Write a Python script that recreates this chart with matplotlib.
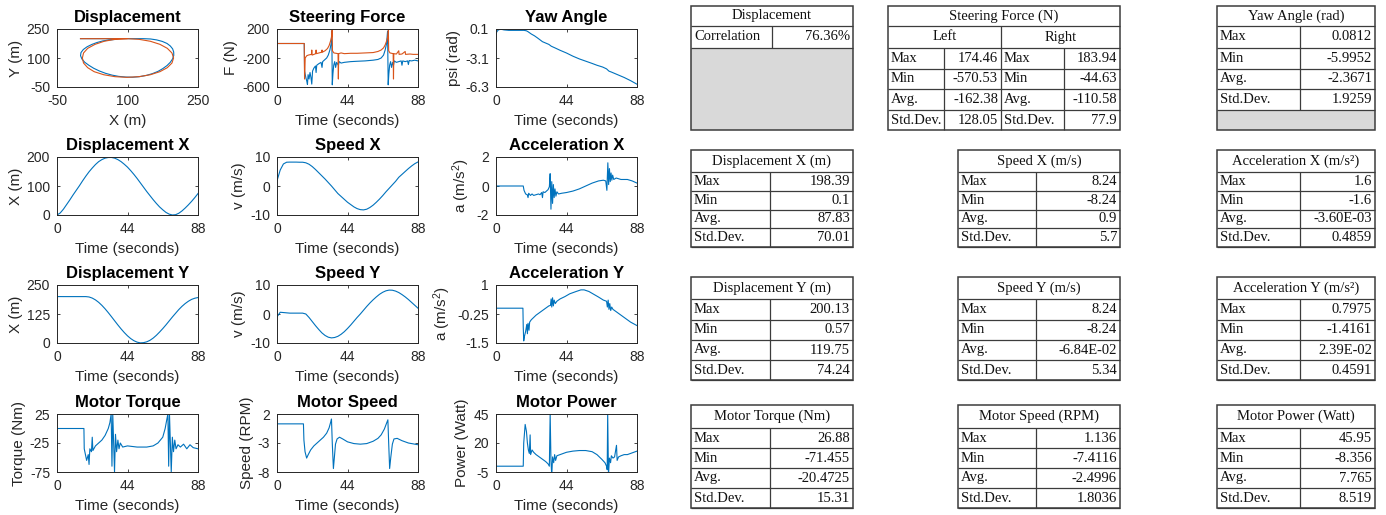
import numpy as np
import matplotlib
matplotlib.use("Agg")
import matplotlib.pyplot as plt
from matplotlib.patches import Rectangle

# ---------------------------------------------------------------- data ----
# sampled every 2 s
t_grid = np.arange(0, 89, 2)

disp_x = [0, 7, 20, 36, 52, 69, 85, 101, 118, 134, 149, 162, 174, 184, 191, 196,
          198.3, 198.4, 196, 191, 184, 175, 165, 153, 140, 126, 111, 96, 81, 67,
          53, 40, 28, 18, 9, 3, 0.1, 1, 6, 14, 24, 35, 47, 60, 74]
disp_y = [200, 200.1, 200, 200, 200, 200, 200, 200, 200, 200, 198.4, 193.6, 185.8,
          175.3, 162.3, 147.4, 130.9, 113.4, 95.5, 77.7, 60.7, 45, 30.9, 19.1, 9.9,
          3.7, 0.6, 1.5, 5, 11.5, 21, 33, 47, 62, 78, 95, 112, 128, 144, 158, 170,
          180, 188, 193, 196]
speed_x = [1.8, 5.5, 7.6, 8.2, 8.24, 8.24, 8.24, 8.2, 8.2, 8.0, 7.5, 6.7, 5.7, 4.6,
           3.5, 2.4, 1.2, 0.0, -1.3, -2.6, -3.6, -4.6, -5.6, -6.4, -7.2, -7.8, -8.15,
           -8.24, -8.0, -7.4, -6.6, -5.6, -4.5, -3.3, -2.0, -0.8, 0.4, 1.6, 3.0, 4.0,
           5.0, 6.0, 6.9, 7.7, 8.3]
speed_y = [-1.0, 0.6, 0.5, 0.4, 0.3, 0.3, 0.3, 0.3, 0.3, 0.0, -1.2, -2.6, -4.0, -5.3,
           -6.5, -7.4, -8.0, -8.24, -8.1, -7.7, -7.0, -6.1, -5.0, -3.8, -2.5, -1.2,
           0.0, 1.3, 2.6, 3.8, 4.9, 5.9, 6.8, 7.5, 8.0, 8.24, 8.2, 7.9, 7.4, 6.7, 5.9,
           5.0, 4.0, 3.0, 2.0]

# reference path (x, y) in metres
ref_path = [(0, 200), (99, 200), (124.6, 196.6), (148.5, 186.6), (169.0, 170.7),
            (184.7, 150), (194.6, 125.9), (198, 100), (194.6, 74.1), (184.7, 50),
            (169.0, 29.3), (148.5, 13.4), (124.6, 3.4), (99, 0), (73.4, 3.4),
            (49.5, 13.4), (29.0, 29.3), (15.3, 50), (6.4, 74.1), (4, 100),
            (6.4, 125.9), (15.3, 150), (31.0, 170.7), (50.5, 186.6), (73.4, 196.6),
            (99, 200)]

# (time, value) samples for the event-driven signals
yaw = [(0, -0.5), (0.5, -0.2), (1.5, 0.0), (3, 0.0812), (5, 0.0), (8, -0.05),
       (13, -0.05), (17.5, -0.05), (19, -0.1), (20, -0.2), (22, -0.45), (24, -0.65),
       (26, -0.9), (29, -1.3), (31, -1.45), (33, -1.6), (34.5, -1.8), (37, -2.0),
       (40, -2.25), (44, -2.55), (48, -2.9), (52, -3.2), (56, -3.45), (60, -3.7),
       (63, -3.9), (66.6, -4.1), (69, -4.3), (70.5, -4.55), (72, -4.65),
       (76, -4.95), (80, -5.25), (84, -5.6), (88, -5.995)]

steer_left = [(0, 0), (17.0, 0), (17.2, -380), (18.0, -470), (18.6, -520),
              (19.0, -565), (19.4, -430), (20.0, -490), (20.6, -400), (21.2, -470),
              (21.7, -560), (22.2, -380), (23.0, -340), (24.0, -310), (24.4, -400),
              (24.8, -300), (26.0, -280), (27.5, -260), (28.1, -330), (28.5, -250),
              (29.5, -230), (31.0, -200), (32.0, -160), (33.0, -90), (33.8, 0),
              (34.2, 174), (34.5, -570), (34.9, -420), (35.4, -300), (36.0, -250),
              (36.6, -330), (37.2, -260), (38.3, -300), (38.8, -250), (40.0, -270),
              (42.0, -260), (46.0, -250), (50.0, -245), (55.0, -240), (60.0, -230),
              (63.0, -220), (65.0, -200), (66.5, -160), (67.5, -90), (68.4, 0),
              (69.0, 170), (69.4, -570), (69.8, -420), (70.3, -300), (70.9, -250),
              (71.5, -330), (72.2, -260), (72.7, -300), (73.2, -240), (74.5, -260),
              (76.0, -250), (77.5, -240), (78.0, -300), (78.5, -240), (80.0, -250),
              (81.5, -240), (82.0, -290), (82.5, -235), (84.0, -240), (86.0, -230),
              (88.0, -240)]
steer_right = [(0, 0), (17, 0), (17.2, -490), (17.6, -200), (18.5, -170),
               (19.5, -160), (21.5, -150), (21.7, -90), (21.9, -160), (24.2, -140),
               (24.4, -90), (24.6, -140), (27.9, -120), (28.1, -90), (28.3, -120),
               (30, -100), (31.5, -70), (32.5, -30), (33.5, 40), (34.2, 100),
               (34.4, 184), (34.6, -100), (35.5, -130), (38.1, -140), (38.3, -490),
               (38.5, -140), (40, -130), (42, -140), (46, -135), (50, -135),
               (55, -130), (60, -125), (63, -110), (65, -90), (66.5, -60),
               (67.5, -20), (68.5, 40), (69.2, 100), (69.5, 184), (69.7, -100),
               (70.5, -130), (72.5, -140), (72.7, -490), (72.9, -140), (74.5, -145),
               (76, -100), (76.2, -150), (78, -145), (80, -110), (80.2, -150),
               (83, -145), (85, -150), (88, -150)]

accel_x = [(0, 0), (17, 0), (17.5, -0.3), (18.5, -0.55), (19.5, -0.6), (20, -0.8),
           (20.4, -0.5), (21.5, -0.65), (22.5, -0.55), (23.5, -0.65), (25, -0.6),
           (26.5, -0.55), (27.5, -0.6), (28.5, -0.45), (29, -0.8), (29.4, -0.4),
           (30.5, -0.45), (31.5, -0.35), (32.5, -0.25), (33.3, -0.05), (33.8, 0.85),
           (34.3, -1.6), (34.8, 0.3), (35.3, -1.2), (35.8, 0.1), (36.3, -0.8),
           (36.8, -0.2), (37.4, -0.7), (38, -0.4), (39, -0.55), (41, -0.5),
           (44, -0.45), (48, -0.35), (52, -0.2), (56, 0), (60, 0.2), (64, 0.35),
           (67, 0.4), (68.5, 0.35), (69.2, -0.3), (69.8, 1.6), (70.3, 0.1),
           (70.8, 1.2), (71.3, 0.3), (71.8, 0.9), (72.3, 0.4), (72.8, 0.75),
           (73.5, 0.45), (75, 0.55), (78, 0.45), (82, 0.45), (85, 0.35), (88, 0.2)]
accel_y = [(0, 0), (16.8, 0), (17.0, -0.8), (17.3, -1.41), (17.8, -1.2),
           (18.5, -1.0), (19.2, -0.7), (19.6, -1.1), (20, -0.65), (20.6, -0.95),
           (21, -0.6), (22, -0.5), (23.5, -0.4), (25, -0.3), (27, -0.2), (29, -0.1),
           (31, 0.0), (33, 0.1), (34, 0.12), (34.4, 0.4), (34.8, 0.05), (35.3, 0.45),
           (35.8, 0.1), (36.3, 0.35), (37, 0.2), (38, 0.3), (40, 0.4), (43, 0.5),
           (46, 0.62), (50, 0.72), (53, 0.79), (55, 0.79), (58, 0.72), (61, 0.6),
           (64, 0.48), (67, 0.35), (69, 0.3), (69.5, 0.05), (70, 0.35), (70.5, -0.05),
           (71, 0.2), (71.6, -0.1), (72.2, 0.05), (73, -0.05), (75, -0.15),
           (78, -0.3), (81, -0.45), (84, -0.6), (88, -0.75)]

torque = [(0, 0), (16.8, 0), (17.0, -35), (18.5, -55), (19.5, -45), (20, -62),
          (20.5, -35), (21.5, -40), (22, -15), (22.4, -38), (24, -30), (26, -25),
          (28, -20), (30, -12), (32, 0), (33, 10), (33.8, 25), (34.3, -65),
          (34.8, 25), (35.3, -20), (35.9, -75), (36.5, -10), (37.2, -40), (38, -20),
          (38.7, -35), (39.5, -25), (41, -32), (44, -30), (50, -32), (56, -32),
          (60, -30), (63, -25), (66, -15), (67.5, 0), (68.5, 15), (69.2, 25),
          (69.7, -65), (70.2, 25), (70.7, -20), (71.3, -75), (72, -15), (72.7, -40),
          (73.5, -20), (74.3, -35), (75.5, -28), (77, -32), (79, -27), (81, -35),
          (83, -28), (85, -33), (88, -35)]
motor_speed = [(0, 0.3), (16.5, 0.3), (16.8, -2.5), (17.5, -4.5), (18.5, -5.6),
               (19.5, -5.0), (21, -4.2), (23, -3.5), (25, -3.0), (27, -2.5),
               (29, -2.0), (31, -1.3), (32.5, -0.4), (33.5, 0.6), (34.0, 1.136),
               (34.5, -3), (35.2, -7.41), (35.8, -5.5), (36.5, -3.2), (37.5, -2.3),
               (39, -2.0), (41, -2.3), (44, -2.8), (48, -3.1), (52, -3.2),
               (56, -3.1), (60, -2.7), (63, -2.2), (65, -1.6), (67, -0.6),
               (68.5, 0.5), (69.2, 1.0), (69.7, -3), (70.3, -7.4), (71, -5.5),
               (72, -3.2), (73, -2.3), (75, -2.2), (78, -2.6), (82, -3.0),
               (86, -3.2), (88, -3.3)]
motor_power = [(0, 0), (17, 0), (17.3, 20), (18.2, 36), (19, 30), (19.6, 20),
               (20.2, 14), (20.8, 11), (21.3, 27), (21.6, 10), (22.5, 14),
               (23.5, 12), (25, 10), (27, 8), (29, 6), (31, 4), (32.5, 2), (33.3, 0),
               (33.8, 45.95), (34.3, 5), (34.8, -8.3), (35.3, 8), (36, 3), (36.6, 10),
               (37.2, 5), (38, 9), (40, 10), (44, 12), (48, 13), (52, 13.5),
               (56, 13.5), (60, 12.5), (63, 10), (66, 6), (68, 3), (69, 0),
               (69.4, -3), (69.7, 45.95), (70.2, -8), (70.8, 7), (71.5, 3), (72, 9),
               (73, 7), (74, 8), (75.2, 18), (75.6, 5), (76.5, 8), (78, 9), (80, 10),
               (82, 10), (84, 11), (86, 12), (88, 13)]

# summary statistics shown in the tables
stat_rows = ["Max", "Min", "Avg.", "Std.Dev."]
correlation = "76.36%"
steer_left_stats = ["174.46", "-570.53", "-162.38", "128.05"]
steer_right_stats = ["183.94", "-44.63", "-110.58", "77.9"]
yaw_stats = ["0.0812", "-5.9952", "-2.3671", "1.9259"]
disp_x_stats = ["198.39", "0.1", "87.83", "70.01"]
speed_x_stats = ["8.24", "-8.24", "0.9", "5.7"]
accel_x_stats = ["1.6", "-1.6", "-3.60E-03", "0.4859"]
disp_y_stats = ["200.13", "0.57", "119.75", "74.24"]
speed_y_stats = ["8.24", "-8.24", "-6.84E-02", "5.34"]
accel_y_stats = ["0.7975", "-1.4161", "2.39E-02", "0.4591"]
torque_stats = ["26.88", "-71.455", "-20.4725", "15.31"]
mspeed_stats = ["1.136", "-7.4116", "-2.4996", "1.8036"]
power_stats = ["45.95", "-8.356", "7.765", "8.519"]

# ---------------------------------------------------------------- style ---
plt.rcParams["font.family"] = ["Liberation Sans", "DejaVu Sans"]
plt.rcParams["mathtext.fontset"] = "custom"
plt.rcParams["mathtext.rm"] = "Liberation Sans"
plt.rcParams["mathtext.it"] = "Liberation Sans:italic"
plt.rcParams["mathtext.bf"] = "Liberation Sans:bold"

W, H = 1386, 515
fig = plt.figure(figsize=(W / 100, H / 100), dpi=100)
fig.patch.set_facecolor("white")

BLUE = "#0072BD"
ORANGE = "#D95319"
INK = "#262626"


def axes_px(left, top, width=141, height=58):
    return fig.add_axes([left / W, 1 - (top + height) / H, width / W, height / H])


def dress(ax, title, xlabel, ylabel, xlim, ylim, xticks, yticks, yticklabels):
    ax.set_xlim(*xlim)
    ax.set_ylim(*ylim)
    ax.set_xticks(xticks)
    ax.set_xticklabels([str(v) for v in xticks])
    ax.set_yticks(yticks)
    ax.set_yticklabels(yticklabels)
    ax.tick_params(direction="in", length=2.5, width=0.6, labelsize=10,
                   colors=INK, top=True, right=True, labeltop=False, labelright=False)
    ax.tick_params(axis="x", pad=5)
    ax.tick_params(axis="y", pad=5)
    for s in ax.spines.values():
        s.set_linewidth(0.7)
        s.set_color(INK)
    ax.set_title(title, fontsize=12, fontweight="bold", pad=5)
    ax.set_xlabel(xlabel, fontsize=11, color=INK, labelpad=4.5)
    ax.set_ylabel(ylabel, fontsize=11, color=INK, labelpad=3)


def pairs(samples):
    tt, vv = zip(*samples)
    return np.array(tt), np.array(vv)


col_left = [57, 277, 496]
row_top = [29, 157, 285, 414]
T_LABEL = "Time (seconds)"
tlim, tticks = (0, 88), [0, 44, 88]
LW = 0.8

# row 1
ax = axes_px(col_left[0], row_top[0])
ax.plot(disp_x, disp_y, color=BLUE, lw=LW)
rx, ry = pairs(ref_path)
ax.plot(rx, ry, color=ORANGE, lw=LW)
dress(ax, "Displacement", "X (m)", "Y (m)", (-50, 250), (-50, 250),
      [-50, 100, 250], [-50, 100, 250], ["-50", "100", "250"])

ax = axes_px(col_left[1], row_top[0])
ax.plot(*pairs(steer_left), color=BLUE, lw=LW)
ax.plot(*pairs(steer_right), color=ORANGE, lw=LW)
dress(ax, "Steering Force", T_LABEL, "F (N)", tlim, (-600, 200), tticks,
      [-600, -200, 200], ["-600", "-200", "200"])

ax = axes_px(col_left[2], row_top[0])
ax.plot(*pairs(yaw), color=BLUE, lw=LW)
dress(ax, "Yaw Angle", T_LABEL, "psi (rad)", tlim, (-6.3, 0.1), tticks,
      [-6.3, -3.1, 0.1], ["-6.3", "-3.1", "0.1"])

# row 2
ax = axes_px(col_left[0], row_top[1])
ax.plot(t_grid, disp_x, color=BLUE, lw=LW)
dress(ax, "Displacement X", T_LABEL, "X (m)", tlim, (0, 200), tticks,
      [0, 100, 200], ["0", "100", "200"])

ax = axes_px(col_left[1], row_top[1])
ax.plot(t_grid, speed_x, color=BLUE, lw=LW)
dress(ax, "Speed X", T_LABEL, "v (m/s)", tlim, (-10, 10), tticks,
      [-10, 0, 10], ["-10", "0", "10"])

ax = axes_px(col_left[2], row_top[1])
ax.plot(*pairs(accel_x), color=BLUE, lw=LW)
dress(ax, "Acceleration X", T_LABEL, "a (m/s$^2$)", tlim, (-2, 2), tticks,
      [-2, 0, 2], ["-2", "0", "2"])

# row 3
ax = axes_px(col_left[0], row_top[2])
ax.plot(t_grid, disp_y, color=BLUE, lw=LW)
dress(ax, "Displacement Y", T_LABEL, "X (m)", tlim, (0, 250), tticks,
      [0, 125, 250], ["0", "125", "250"])

ax = axes_px(col_left[1], row_top[2])
ax.plot(t_grid, speed_y, color=BLUE, lw=LW)
dress(ax, "Speed Y", T_LABEL, "v (m/s)", tlim, (-10, 10), tticks,
      [-10, 0, 10], ["-10", "0", "10"])

ax = axes_px(col_left[2], row_top[2])
ax.plot(*pairs(accel_y), color=BLUE, lw=LW)
dress(ax, "Acceleration Y", T_LABEL, "a (m/s$^2$)", tlim, (-1.5, 1), tticks,
      [-1.5, -0.25, 1], ["-1.5", "-0.25", "1"])

# row 4
ax = axes_px(col_left[0], row_top[3])
ax.plot(*pairs(torque), color=BLUE, lw=LW)
dress(ax, "Motor Torque", T_LABEL, "Torque (Nm)", tlim, (-75, 25), tticks,
      [-75, -25, 25], ["-75", "-25", "25"])

ax = axes_px(col_left[1], row_top[3])
ax.plot(*pairs(motor_speed), color=BLUE, lw=LW)
dress(ax, "Motor Speed", T_LABEL, "Speed (RPM)", tlim, (-8, 2), tticks,
      [-8, -3, 2], ["-8", "-3", "2"])

ax = axes_px(col_left[2], row_top[3])
ax.plot(*pairs(motor_power), color=BLUE, lw=LW)
dress(ax, "Motor Power", T_LABEL, "Power (Watt)", tlim, (-5, 45), tticks,
      [-5, 20, 45], ["-5", "20", "45"])

# ---------------------------------------------------------------- tables --
tab = fig.add_axes([0, 0, 1, 1], zorder=-1)
tab.set_xlim(0, W)
tab.set_ylim(H, 0)
tab.axis("off")

SERIF = ["Liberation Serif", "DejaVu Serif"]
EDGE = "#3c3c3c"
GREY = "#d9d9d9"
FS = 10.5


def hline(x0, x1, y, lw=0.9):
    tab.plot([x0, x1], [y, y], color=EDGE, lw=lw, solid_capstyle="butt")


def vline(x, y0, y1, lw=0.9):
    tab.plot([x, x], [y0, y1], color=EDGE, lw=lw, solid_capstyle="butt")


def cell_text(x, y, s, ha):
    tab.text(x, y, s, ha=ha, va="center", fontsize=FS, family=SERIF, color="#111111")


def frame(x0, x1, y0, y1):
    tab.add_patch(Rectangle((x0, y0), x1 - x0, y1 - y0, fill=False,
                            edgecolor=EDGE, lw=1.1))


def stats_table(x0, x1, xdiv, edges, title, values, grey_tail=None):
    y_end = grey_tail if grey_tail is not None else edges[-1]
    if grey_tail is not None:
        tab.add_patch(Rectangle((x0, edges[-1]), x1 - x0, grey_tail - edges[-1],
                                facecolor=GREY, edgecolor="none"))
    frame(x0, x1, edges[0], y_end)
    for y in edges[1:]:
        hline(x0, x1, y)
    vline(xdiv, edges[1], edges[-1])
    cell_text((x0 + x1) / 2, (edges[0] + edges[1]) / 2, title, "center")
    for i, (lab, val) in enumerate(zip(stat_rows, values)):
        yc = (edges[i + 1] + edges[i + 2]) / 2
        cell_text(x0 + 3, yc, lab, "left")
        cell_text(x1 - 3, yc, val, "right")


# first row: displacement correlation
r1 = [6, 26, 48, 68.5, 89, 110, 130]
x0, x1, xd = 691, 853, 772
tab.add_patch(Rectangle((x0, r1[2]), x1 - x0, r1[-1] - r1[2], facecolor=GREY,
                        edgecolor="none"))
frame(x0, x1, r1[0], r1[-1])
hline(x0, x1, r1[1])
hline(x0, x1, r1[2])
vline(xd, r1[1], r1[2])
cell_text((x0 + x1) / 2, (r1[0] + r1[1]) / 2, "Displacement", "center")
cell_text(x0 + 3, (r1[1] + r1[2]) / 2, "Correlation", "left")
cell_text(x1 - 3, (r1[1] + r1[2]) / 2, correlation, "right")

# first row: steering force, left and right wheels
x0, x1, xm = 888, 1120, 1001
xd_l, xd_r = 944, 1064
frame(x0, x1, r1[0], r1[-1])
for y in r1[1:-1]:
    hline(x0, x1, y)
vline(xm, r1[1], r1[-1])
vline(xd_l, r1[2], r1[-1])
vline(xd_r, r1[2], r1[-1])
cell_text((x0 + x1) / 2, (r1[0] + r1[1]) / 2, "Steering Force (N)", "center")
cell_text((x0 + xm) / 2, (r1[1] + r1[2]) / 2, "Left", "center")
cell_text((xm + x1) / 2, (r1[1] + r1[2]) / 2, "Right", "center")
for i, lab in enumerate(stat_rows):
    yc = (r1[i + 2] + r1[i + 3]) / 2
    cell_text(x0 + 3, yc, lab, "left")
    cell_text(xm - 3, yc, steer_left_stats[i], "right")
    cell_text(xm + 3, yc, lab, "left")
    cell_text(x1 - 3, yc, steer_right_stats[i], "right")

# first row: yaw angle
stats_table(1217, 1375, 1300, r1[:-1], "Yaw Angle (rad)", yaw_stats, grey_tail=r1[-1])

# remaining rows
r2 = [150, 172, 190.5, 209.5, 228, 247]
r3 = [277, 299, 319.5, 340, 360, 380]
r4 = [405, 428, 448, 468, 488, 508]
cols = [(691, 853, 770), (958, 1120, 1036), (1217, 1375, 1300)]

stats_table(*cols[0], r2, "Displacement X (m)", disp_x_stats)
stats_table(*cols[1], r2, "Speed X (m/s)", speed_x_stats)
stats_table(*cols[2], r2, "Acceleration X (m/s\u00b2)", accel_x_stats)
stats_table(*cols[0], r3, "Displacement Y (m)", disp_y_stats)
stats_table(*cols[1], r3, "Speed Y (m/s)", speed_y_stats)
stats_table(*cols[2], r3, "Acceleration Y (m/s\u00b2)", accel_y_stats)
stats_table(*cols[0], r4, "Motor Torque (Nm)", torque_stats)
stats_table(*cols[1], r4, "Motor Speed (RPM)", mspeed_stats)
stats_table(*cols[2], r4, "Motor Power (Watt)", power_stats)

fig.savefig("out.png", dpi=100, facecolor="white")
